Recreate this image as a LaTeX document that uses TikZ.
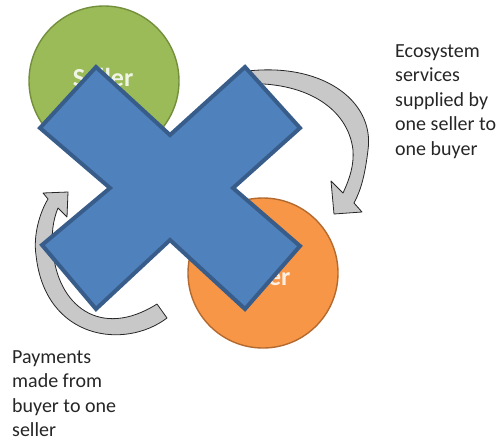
\documentclass[tikz,border=0pt]{standalone}
\usepackage{fontspec}
\setmainfont{Carlito}
\definecolor{xblue}{HTML}{4F81BD}
\definecolor{xborder}{HTML}{385D8A}
\definecolor{sellerfill}{HTML}{9BBB59}
\definecolor{sellerline}{HTML}{738F3C}
\definecolor{buyerfill}{HTML}{F79646}
\definecolor{buyerline}{HTML}{B46A2E}
\definecolor{arrowgray}{HTML}{C8C8C8}
\definecolor{txt}{HTML}{262626}
\begin{document}
\begin{tikzpicture}[x=1pt,y=-1pt,
  lbl/.style={font=\fontsize{20}{24.6}\selectfont, text=txt, align=left, anchor=north west, inner sep=0pt},
  circ/.style={circle, minimum size=150pt, inner sep=0pt, line width=1.4pt},
  circtext/.style={font=\fontsize{26}{30}\selectfont\bfseries, text=white, text opacity=0.85, inner sep=0pt},
  curvedarrow/.style={fill=arrowgray, draw=black!85, line width=0.8pt, line join=round},
  cross/.style={fill=xblue, draw=xborder, line width=4pt, line join=miter}]
\useasboundingbox (0,0) rectangle (502,442);

% curved arrows (behind everything)
\path[curvedarrow]
  (240,72) .. controls (320,60) and (375,100) .. (368,150)
  .. controls (365,175) and (361,190) .. (354,203)
  -- (362,212) -- (334,214) -- (331,181) -- (343,193)
  .. controls (350,178) and (354,165) .. (353,150)
  .. controls (348,108) and (305,80) .. (240,84) -- cycle;
\path[curvedarrow]
  (167,318) .. controls (125,350) and (45,340) .. (36,255)
  .. controls (33,235) and (40,212) .. (48,199)
  -- (43,193) -- (68,192) -- (67,217) -- (58,208)
  .. controls (53,220) and (51,235) .. (53,250)
  .. controls (57,305) and (100,340) .. (157,304) -- cycle;

% circles
\node[circ, fill=sellerfill, draw=sellerline] (seller) at (104,81) {};
\node[circ, fill=buyerfill, draw=buyerline] (buyer) at (263,273) {};
\node[circtext] (sellertext) at (103,77) {Seller};
\node[circtext] (buyertext) at (259,279) {Buyer};

% big cross
\path[cross]
  (96,67) -- (170,135) -- (245,67) -- (300,128) -- (233,188) -- (300,246)
  -- (245,309) -- (170,240) -- (96,309) -- (42,245) -- (110,188) -- (40,128) -- cycle;

% labels
\node[lbl] (services) at (395,44) {Ecosystem\\services\\supplied by\\one seller to\\one buyer};
\node[lbl] (payments) at (12,350) {Payments\\made from\\buyer to one\\seller};
\end{tikzpicture}
\end{document}
